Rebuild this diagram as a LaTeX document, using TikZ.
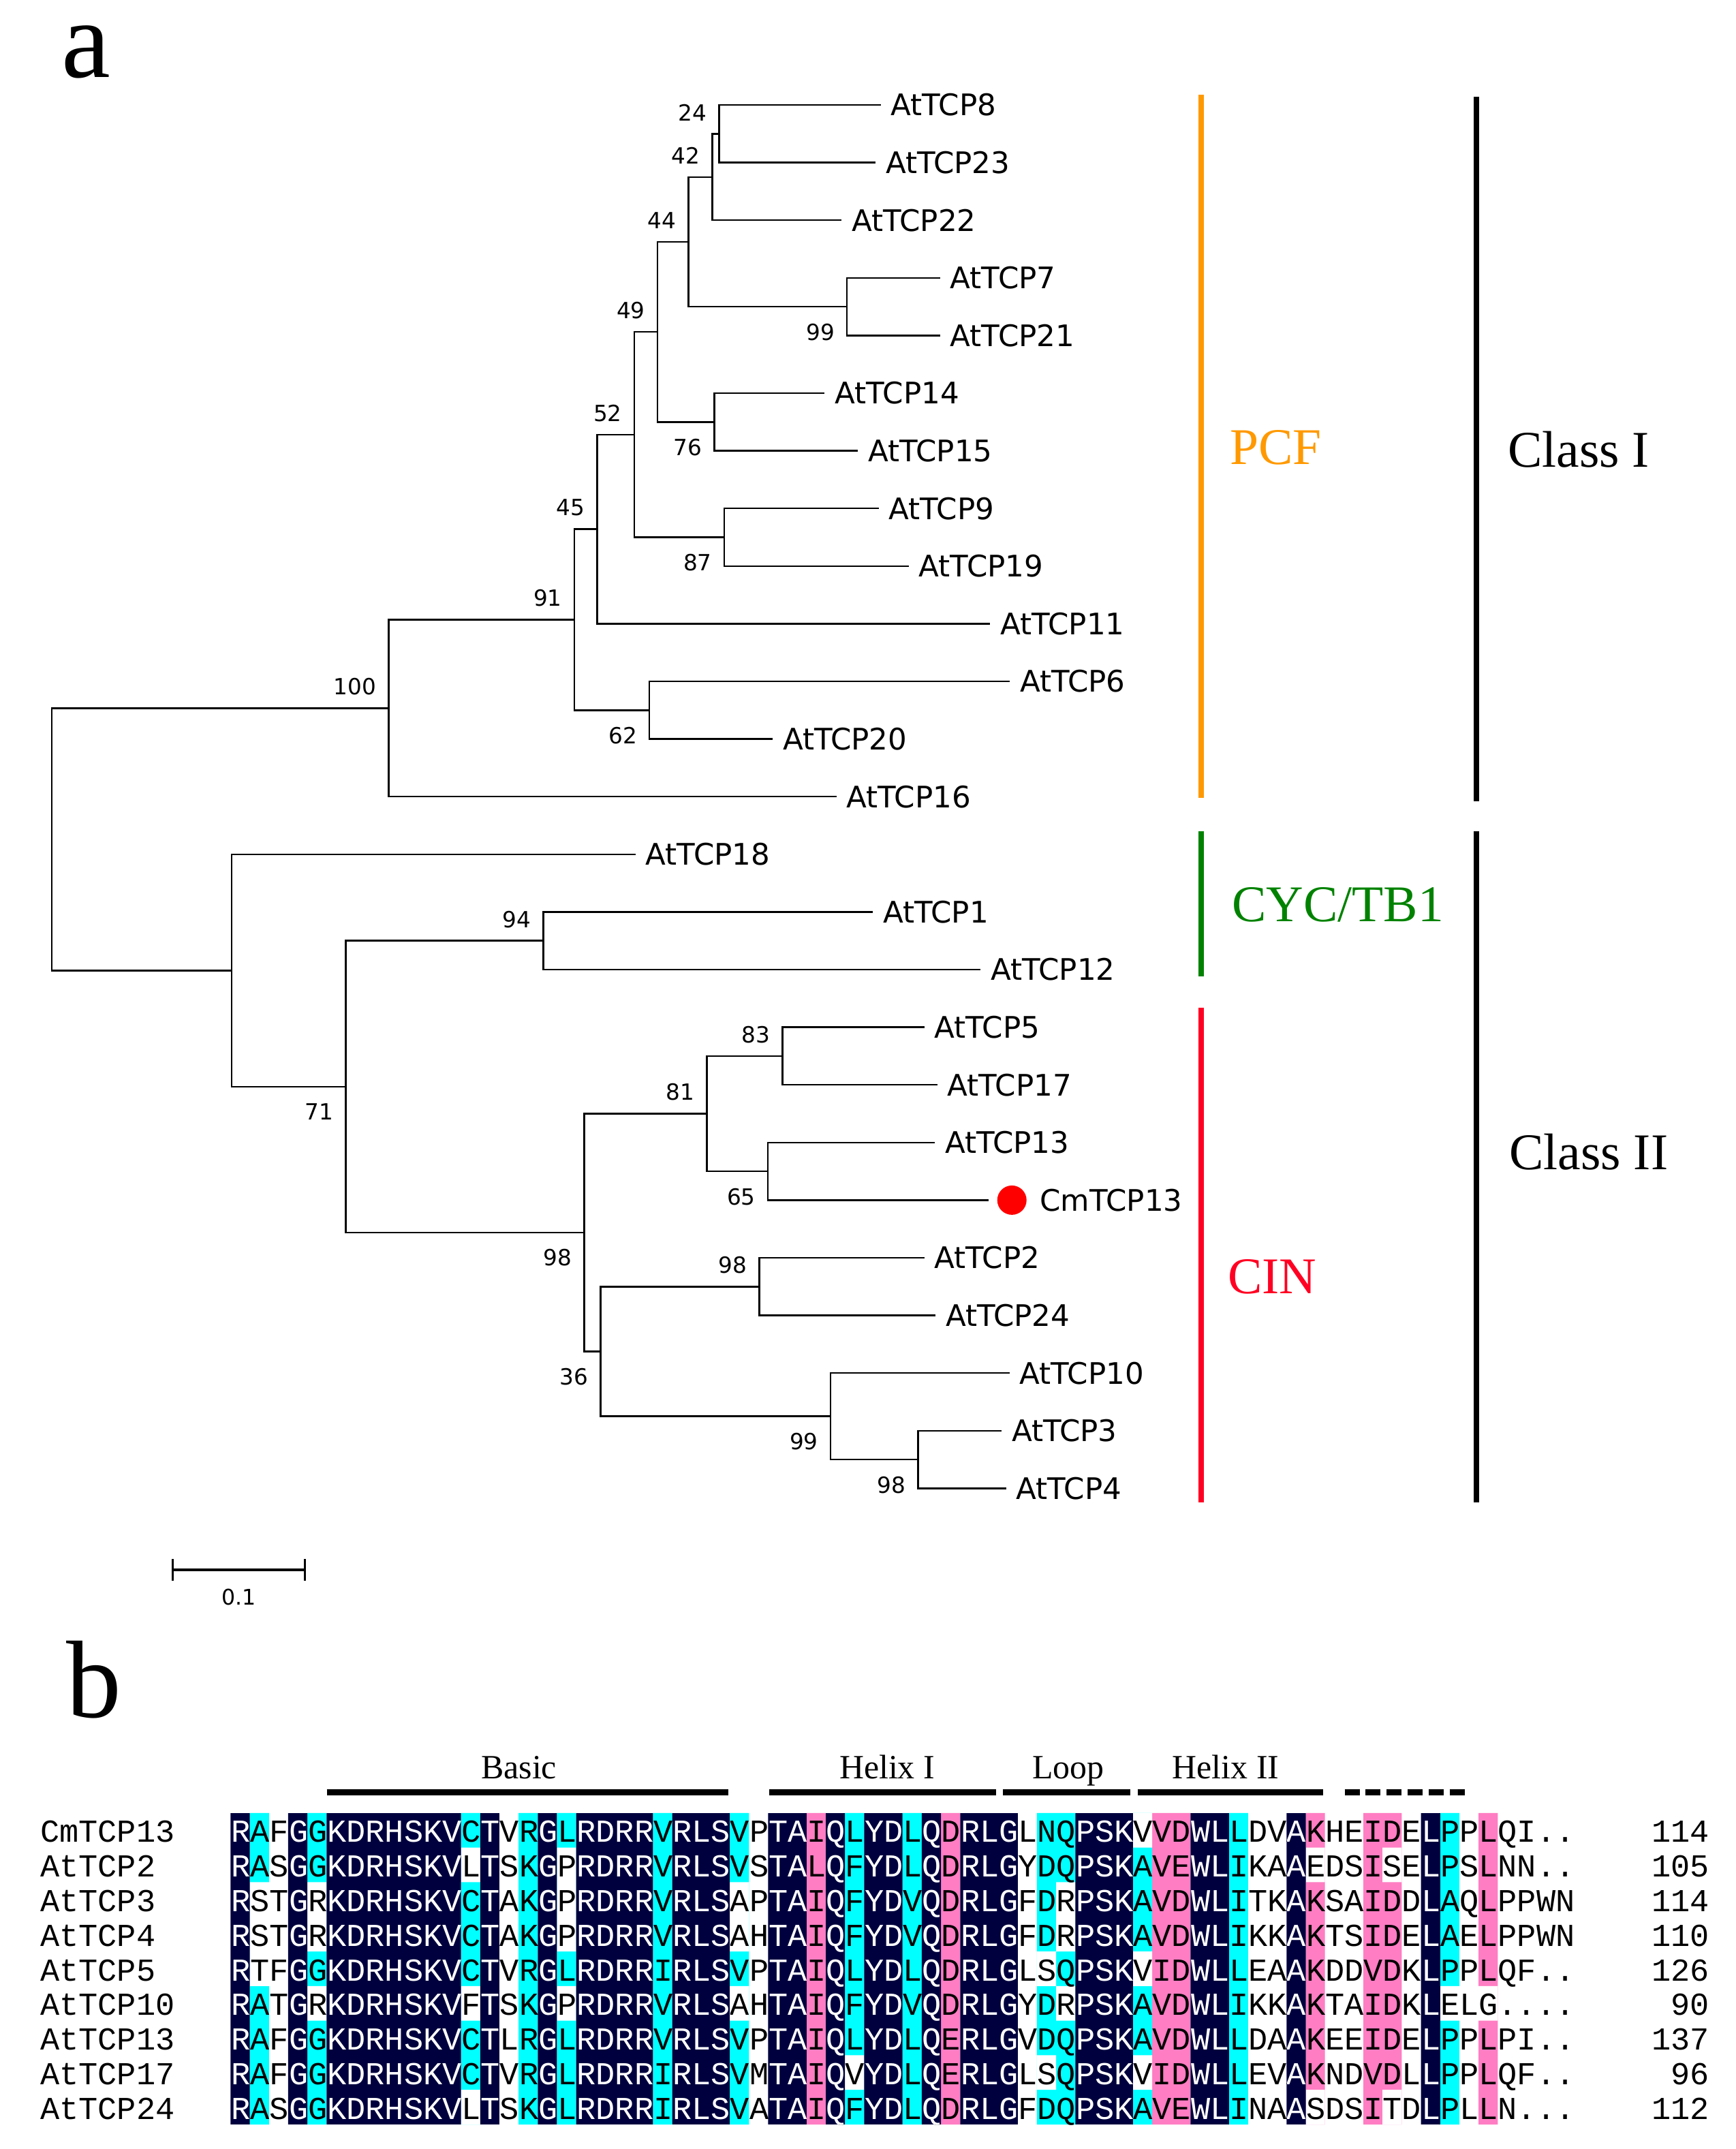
\documentclass[tikz,border=0pt]{standalone}
\usepackage{fontspec}
\setmainfont{Liberation Serif}
\setsansfont{DejaVu Sans}
\setmonofont{Liberation Mono}
\usetikzlibrary{positioning}
\usetikzlibrary{arrows.meta}

% one aligned sequence line, row #2, text colour #1
\newcommand\seqrow[3]{\node[seqtxt,text=#1] at (169.2,{1351.9+25.4*#2}) {#3};}
\newcommand\alignrows[1]{%
  \seqrow{#1}{0}{RAFGGKDRHSKVCTVRGLRDRRVRLSVPTAIQLYDLQDRLGLNQPSKVVDWLLDVAKHEIDELPPLQI..}
  \seqrow{#1}{1}{RASGGKDRHSKVLTSKGPRDRRVRLSVSTALQFYDLQDRLGYDQPSKAVEWLIKAAEDSISELPSLNN..}
  \seqrow{#1}{2}{RSTGRKDRHSKVCTAKGPRDRRVRLSAPTAIQFYDVQDRLGFDRPSKAVDWLITKAKSAIDDLAQLPPWN}
  \seqrow{#1}{3}{RSTGRKDRHSKVCTAKGPRDRRVRLSAHTAIQFYDVQDRLGFDRPSKAVDWLIKKAKTSIDELAELPPWN}
  \seqrow{#1}{4}{RTFGGKDRHSKVCTVRGLRDRRIRLSVPTAIQLYDLQDRLGLSQPSKVIDWLLEAAKDDVDKLPPLQF..}
  \seqrow{#1}{5}{RATGRKDRHSKVFTSKGPRDRRVRLSAHTAIQFYDVQDRLGYDRPSKAVDWLIKKAKTAIDKLELG....}
  \seqrow{#1}{6}{RAFGGKDRHSKVCTLRGLRDRRVRLSVPTAIQLYDLQERLGVDQPSKAVDWLLDAAKEEIDELPPLPI..}
  \seqrow{#1}{7}{RAFGGKDRHSKVCTVRGLRDRRIRLSVMTAIQVYDLQERLGLSQPSKVIDWLLEVAKNDVDLLPPLQF..}
  \seqrow{#1}{8}{RASGGKDRHSKVLTSKGLRDRRIRLSVATAIQFYDLQDRLGFDQPSKAVEWLINAASDSITDLPLLN...}}

\begin{document}
\begin{tikzpicture}[x=0.02cm,y=-0.02cm,line width=0.7pt,
	branch/.style={to path={|- (\tikztotarget)}},
	leaf/.style={anchor=west,inner sep=0pt,inner xsep=0.15cm,outer sep=0pt,
		font=\sffamily\fontsize{12.4}{14}\selectfont},
	bsup/.style={anchor=south east,inner sep=0pt,xshift=-0.17cm,yshift=0.18cm,
		font=\sffamily\fontsize{9.3}{11}\selectfont},
	bsdown/.style={anchor=north east,inner sep=0pt,xshift=-0.17cm,yshift=-0.235cm,
		font=\sffamily\fontsize{9.3}{11}\selectfont},
	cmdot/.style={circle,fill=red,minimum size=0.43cm,inner sep=0pt,outer sep=0.128cm},
	cladebar/.style={line width=2.05pt},
	classbar/.style={line width=2.2pt},
	cladename/.style={anchor=base west,inner sep=0pt,font=\fontsize{21.5}{26}\selectfont},
	panel/.style={anchor=base west,inner sep=0pt,font=\fontsize{46}{50}\selectfont},
	seqtxt/.style={anchor=base west,inner sep=0pt,font=\ttfamily\fontsize{13.36}{16}\selectfont},
	dombar/.style={line width=2.55pt},
	domlab/.style={anchor=base,inner sep=0pt,font=\fontsize{14.2}{17}\selectfont}]
	
	\definecolor{navyblk}{RGB}{0,0,62}
	\definecolor{cyanblk}{RGB}{0,255,255}
	\definecolor{pinkblk}{RGB}{255,125,195}
	\definecolor{pcforange}{RGB}{255,153,0}
	\definecolor{cycgreen}{RGB}{0,130,0}
	\definecolor{cinred}{RGB}{255,0,35}
	
	\useasboundingbox (0,0) rectangle (1273.5,1577);
	
	\node[panel] (pa) at (44.7,57) {a};
	\node[panel] (pb) at (48,1260) {b};
	
	% inner nodes, class I
	\coordinate (root) at (38.1,615.91);
	\coordinate (n100) at (285.2,519.66);
	\coordinate (n91) at (421.5,454.73);
	\coordinate (n45) at (438.2,388.3);
	\coordinate (n52) at (465.4,318.9);
	\coordinate (n49) at (482.4,243.56);
	\coordinate (n44) at (505.3,177.46);
	\coordinate (n42) at (522.8,129.88);
	\coordinate (n24) at (527.7,98.15);
	\coordinate (n99a) at (621.6,225.05);
	\coordinate (n76) at (524.3,309.65);
	\coordinate (n87) at (531.5,394.25);
	\coordinate (n62) at (476.6,521.15);
	% inner nodes, class II
	\coordinate (nII) at (170.0,712.16);
	\coordinate (n71) at (253.7,797.43);
	\coordinate (n94) at (398.8,690.35);
	\coordinate (n98) at (428.7,904.5);
	\coordinate (n81) at (518.7,817.25);
	\coordinate (n83) at (574.2,774.95);
	\coordinate (n65) at (563.4,859.55);
	\coordinate (n36) at (440.7,991.74);
	\coordinate (n98a) at (557.2,944.15);
	\coordinate (n99b) at (609.5,1039.33);
	\coordinate (n98b) at (673.7,1071.05);
	
	% leaves
	\node[leaf] (t8) at (646.3,77) {AtTCP8};
	\node[leaf] (t23) at (642.5,119.3) {AtTCP23};
	\node[leaf] (t22) at (617.6,161.6) {AtTCP22};
	\node[leaf] (t7) at (689.9,203.9) {AtTCP7};
	\node[leaf] (t21) at (689.9,246.2) {AtTCP21};
	\node[leaf] (t14) at (605.2,288.5) {AtTCP14};
	\node[leaf] (t15) at (629.6,330.8) {AtTCP15};
	\node[leaf] (t9) at (644.8,373.1) {AtTCP9};
	\node[leaf] (t19) at (666.9,415.4) {AtTCP19};
	\node[leaf] (t11) at (726.6,457.7) {AtTCP11};
	\node[leaf] (t6) at (741.0,500.0) {AtTCP6};
	\node[leaf] (t20) at (567.0,542.3) {AtTCP20};
	\node[leaf] (t16) at (613.8,584.6) {AtTCP16};
	\node[leaf] (t18) at (466.4,626.9) {AtTCP18};
	\node[leaf] (t1) at (640.6,669.2) {AtTCP1};
	\node[leaf] (t12) at (719.6,711.5) {AtTCP12};
	\node[leaf] (t5) at (678.3,753.8) {AtTCP5};
	\node[leaf] (t17) at (687.8,796.1) {AtTCP17};
	\node[leaf] (t13) at (686.0,838.4) {AtTCP13};
	\node[cmdot] (dot) at (742.6,880.7) {};
	\node[leaf,right=-0.08cm of dot] (cm13) {CmTCP13};
	\node[leaf] (t2) at (678.3,923.0) {AtTCP2};
	\node[leaf] (t24) at (686.5,965.3) {AtTCP24};
	\node[leaf] (t10) at (740.8,1007.6) {AtTCP10};
	\node[leaf] (t3) at (735.0,1049.9) {AtTCP3};
	\node[leaf] (t4) at (738.3,1092.2) {AtTCP4};
	
	\path (root) edge[branch] (n100) edge[branch] (nII)
	(n100) edge[branch] (n91) edge[branch] (t16)
	(n91) edge[branch] (n45) edge[branch] (n62)
	(n45) edge[branch] (n52) edge[branch] (t11)
	(n52) edge[branch] (n49) edge[branch] (n87)
	(n49) edge[branch] (n44) edge[branch] (n76)
	(n44) edge[branch] (n42) edge[branch] (n99a)
	(n42) edge[branch] (n24) edge[branch] (t22)
	(n24) edge[branch] (t8) edge[branch] (t23)
	(n99a) edge[branch] (t7) edge[branch] (t21)
	(n76) edge[branch] (t14) edge[branch] (t15)
	(n87) edge[branch] (t9) edge[branch] (t19)
	(n62) edge[branch] (t6) edge[branch] (t20)
	(nII) edge[branch] (t18) edge[branch] (n71)
	(n71) edge[branch] (n94) edge[branch] (n98)
	(n94) edge[branch] (t1) edge[branch] (t12)
	(n98) edge[branch] (n81) edge[branch] (n36)
	(n81) edge[branch] (n83) edge[branch] (n65)
	(n83) edge[branch] (t5) edge[branch] (t17)
	(n65) edge[branch] (t13) edge[branch] (dot)
	(n36) edge[branch] (n98a) edge[branch] (n99b)
	(n98a) edge[branch] (t2) edge[branch] (t24)
	(n99b) edge[branch] (t10) edge[branch] (n98b)
	(n98b) edge[branch] (t3) edge[branch] (t4);
	
	% bootstrap values
	\node[bsup] at (n24) {24};
	\node[bsup] at (n42) {42};
	\node[bsup] at (n44) {44};
	\node[bsdown] at (n99a) {99};
	\node[bsup] at (n49) {49};
	\node[bsdown] at (n76) {76};
	\node[bsup] at (n52) {52};
	\node[bsdown] at (n87) {87};
	\node[bsup] at (n45) {45};
	\node[bsdown] at (n62) {62};
	\node[bsup] at (n91) {91};
	\node[bsup] at (n100) {100};
	\node[bsup] at (n94) {94};
	\node[bsdown] at (n71) {71};
	\node[bsup] at (n83) {83};
	\node[bsup] at (n81) {81};
	\node[bsdown] at (n65) {65};
	\node[bsdown] at (n98) {98};
	\node[bsup] at (n98a) {98};
	\node[bsdown] at (n36) {36};
	\node[bsdown] at (n99b) {99};
	\node[bsdown] at (n98b) {98};
	
	% clade bars
	\draw[cladebar,pcforange] (881.5,69.6) -- (881.5,585.3);
	\draw[cladebar,cycgreen] (881.5,609.8) -- (881.5,716.4);
	\draw[cladebar,cinred] (881.5,739.6) -- (881.5,1102.3);
	\draw[classbar] (1083.3,71) -- (1083.3,588);
	\draw[classbar] (1083.3,609.8) -- (1083.3,1102.3);
	\node[cladename,text=pcforange] at (902,341) {PCF};
	\node[cladename] at (1106,343) {Class I};
	\node[cladename,text=cycgreen] at (903.5,676) {CYC/TB1};
	\node[cladename,text=cinred] at (900.5,949) {CIN};
	\node[cladename] at (1107,858) {Class II};
	
	% scale
	\coordinate (sbl) at (125.8,1152);
	\coordinate (sbr) at (224.5,1152);
	\draw[line width=0.95pt,{Bar[width=0.32cm]}-{Bar[width=0.32cm]}] (sbl) -- (sbr)
	node[midway,below=0.26cm,inner sep=0pt,font=\sffamily\fontsize{9}{11}\selectfont] {0.1};
	
	% domains
	\draw[dombar] (239.8,1315.3) -- (534.4,1315.3);
	\draw[dombar] (564.5,1315.3) -- (730.8,1315.3);
	\draw[dombar] (735.9,1315.3) -- (829.3,1315.3);
	\draw[dombar] (834.8,1315.3) -- (970.8,1315.3);
	\draw[dombar,dash pattern=on 0.22cm off 0.088cm] (986.8,1315.3) -- (1077.8,1315.3);
	\node[domlab] at (380.8,1305) {Basic};
	\node[domlab] at (651,1305) {Helix I};
	\node[domlab] at (784,1305) {Loop};
	\node[domlab] at (899.5,1305) {Helix II};
	
	% shading of the alignment
	\fill[cyanblk] \foreach \a/\b in {1/1,4/4,12/12,15/15,17/17,22/22,26/26,32/32,35/35,42/43,47/47,52/52,63/63}
	{({169.2+14.09*\a},1330.4) rectangle ({169.2+14.09*(\b+1)},1559)};
	\fill[pinkblk] \foreach \a/\b in {30/30,37/37,48/49,56/56,59/60,65/65}
	{({169.2+14.09*\a},1330.4) rectangle ({169.2+14.09*(\b+1)},1559)};
	\fill[white] \foreach \c/\r in {1/2,1/3,1/4,4/2,4/3,4/5,12/1,12/5,12/8,17/1,17/2,17/3,17/5,
		26/2,26/3,26/5,32/7,42/4,42/7,43/2,43/3,43/5,47/0,47/4,47/7,63/5,56/1,56/8,60/1,60/8,65/5}
	{({169.2+14.09*\c},{1330.4+25.4*\r}) rectangle ({169.2+14.09*(\c+1)},{1330.4+25.4*(\r+1)})};
	
	\alignrows{black}
	\begin{scope}
		\clip \foreach \a/\b in {0/0,3/3,5/11,13/13,16/16,18/21,23/25,28/29,31/31,33/34,36/36,38/40,44/46,50/51,55/55,62/62}
		{({169.2+14.09*\a},1330.4) rectangle ({169.2+14.09*(\b+1)},1559)};
		\fill[navyblk] (169.2,1330.4) rectangle (1156,1559);
		\alignrows{white}
	\end{scope}
	
	\foreach \nm/\len [count=\r from 0] in {CmTCP13/114,AtTCP2/105,AtTCP3/114,AtTCP4/110,
		AtTCP5/126,AtTCP10/90,AtTCP13/137,AtTCP17/96,AtTCP24/112} {
		\node[seqtxt] (nm\r) at (29,{1351.9+25.4*\r}) {\nm};
		\node[seqtxt,anchor=base east] (len\r) at (1255,{1351.9+25.4*\r}) {\len};
	}
\end{tikzpicture}
\end{document}
